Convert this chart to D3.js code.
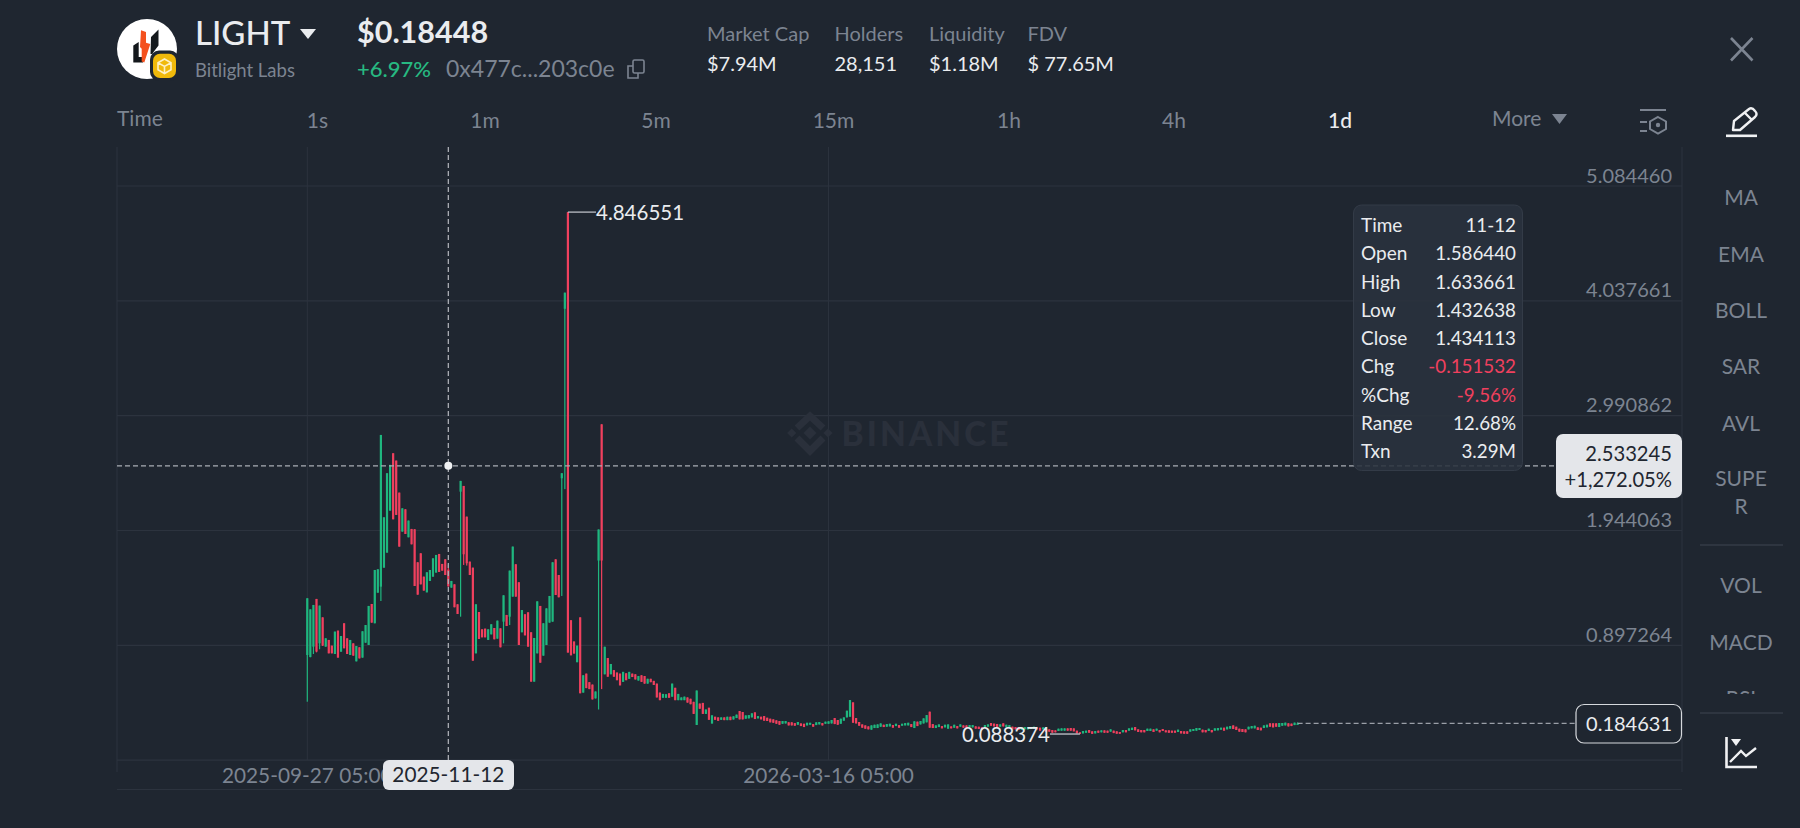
<!DOCTYPE html>
<html><head><meta charset="utf-8">
<script src="https://cdn.jsdelivr.net/npm/d3@7/dist/d3.min.js"></script>
<style>
html,body{margin:0;padding:0;background:#1f2630;overflow:hidden}
svg{display:block}
text{font-family:Lato,"Open Sans",sans-serif}
</style></head><body>
<svg id="c" width="1800" height="828"></svg>
<script>
const opens=[.809,.790,.885,1.320,.915,1.152,.885,.946,.894,.818,
1.031,.839,1.098,.961,.809,.915,.751,.879,.785,.921,
.900,1.274,1.098,1.377,1.432,1.605,1.742,2.125,2.648,2.581,
2.289,1.934,2.137,1.882,1.958,1.955,1.654,1.736,1.523,1.380,
1.484,1.523,1.560,1.730,1.639,1.681,1.586440,1.423,1.453,1.271,
2.298,2.350,2.070,1.660,1.605,.824,1.201,1.043,1.049,.946,
.997,1.055,.958,1.052,1.113,1.174,1.158,1.341,1.636,1.472,
1.016,1.180,1.198,1.016,.566,.824,1.256,.803,.900,1.104,
1.113,1.681,1.538,2.420,3.965,4.846,1.126,.932,.743,1.152,
.466,.639,.561,.539,.413,1.670,2.912,.633,.781,.633,
.671,.649,.639,.564,.642,.592,.639,.633,.576,.624,
.617,.548,.592,.573,.548,.466,.419,.419,.460,.429,
.510,.397,.397,.397,.422,.410,.382,.171,.366,.372,
.272,.328,.184,.246,.240,.218,.240,.215,.246,.221,
.234,.298,.289,.228,.231,.240,.286,.231,.246,.252,
.237,.228,.222,.213,.207,.182,.185,.195,.195,.188,
.173,.185,.182,.167,.173,.179,.170,.176,.188,.182,
.182,.185,.234,.216,.182,.210,.240,.246,.377,.234,
.198,.176,.167,.158,.128,.143,.143,.155,.173,.155,
.158,.170,.161,.170,.164,.167,.167,.179,.143,.201,
.176,.185,.195,.292,.179,.143,.152,.161,.149,.137,
.158,.146,.161,.155,.167,.167,.149,.149,.158,.155,
.149,.149,.155,.189,.183,.180,.155,.186,.152,.146,
.155,.152,.149,.128,.131,.131,.134,.137,.149,.146,
.131,.134,.131,.125,.122,.116,.119,.119,.140,.143,
.140,.119,.104,.094,.100,.125,.113,.094,.119,.104,
.122,.119,.110,.119,.113,.107,.104,.125,.119,.125,
.152,.131,.125,.125,.116,.116,.131,.119,.125,.134,
.122,.122,.119,.119,.107,.116,.113,.113,.110,.116,
.119,.125,.128,.125,.116,.125,.119,.122,.128,.146,
.131,.137,.167,.155,.137,.134,.131,.131,.140,.140,
.149,.146,.143,.149,.186,.186,.186,.152,.164,.167,
.186,.183,.170,.180];
const highs=[1.326,1.225,1.265,1.320,1.259,1.152,.961,.946,.894,1.022,
1.031,.982,1.098,.961,.946,.915,.891,.879,1.025,1.082,
1.256,1.274,1.584,1.590,2.815,2.064,2.466,2.542,2.648,2.581,
2.289,2.146,2.137,2.034,1.958,1.955,1.654,1.736,1.523,1.563,
1.584,1.690,1.721,1.730,1.639,1.681,1.633661,1.484,1.453,1.271,
2.396,2.350,2.070,1.660,1.605,1.271,1.201,1.043,1.049,1.043,
1.089,1.055,1.122,1.052,1.353,1.174,1.578,1.797,1.636,1.472,
1.219,1.180,1.198,1.016,.964,1.298,1.256,1.098,1.234,1.347,
1.654,1.681,1.538,2.466,4.112,4.846551,1.126,.932,.894,1.152,
.624,.639,.561,.539,.476,1.953,2.912,.884,.781,.727,
.671,.649,.639,.655,.642,.655,.639,.633,.617,.624,
.617,.592,.592,.573,.548,.466,.454,.451,.460,.548,
.510,.454,.422,.429,.422,.410,.382,.485,.366,.372,
.312,.328,.259,.246,.240,.240,.240,.246,.246,.250,
.265,.298,.289,.258,.261,.277,.286,.252,.246,.252,
.237,.228,.222,.213,.207,.207,.207,.195,.195,.188,
.198,.185,.182,.191,.191,.179,.195,.198,.188,.201,
.204,.216,.234,.216,.228,.240,.301,.398,.377,.234,
.198,.176,.167,.158,.167,.173,.176,.185,.173,.179,
.182,.170,.182,.170,.182,.188,.191,.179,.204,.201,
.207,.231,.261,.292,.179,.167,.176,.161,.173,.176,
.158,.173,.161,.176,.167,.167,.170,.170,.158,.155,
.149,.170,.176,.189,.183,.180,.176,.186,.173,.170,
.155,.152,.149,.146,.152,.149,.152,.155,.149,.146,
.149,.134,.131,.125,.122,.137,.140,.140,.140,.143,
.140,.119,.104,.116,.119,.125,.113,.116,.119,.122,
.122,.119,.131,.119,.113,.107,.125,.125,.140,.146,
.152,.131,.125,.125,.137,.137,.131,.137,.125,.134,
.122,.122,.119,.119,.128,.116,.113,.113,.131,.134,
.143,.143,.128,.125,.137,.125,.140,.143,.146,.146,
.155,.161,.167,.155,.137,.134,.131,.155,.161,.164,
.149,.146,.167,.173,.186,.186,.186,.189,.189,.192,
.186,.183,.192,.195];
const lows=[.383,.788,.818,.833,.861,.891,.885,.824,.824,.818,
.785,.839,.870,.818,.809,.803,.751,.778,.785,.921,
.900,1.104,1.098,1.377,1.301,1.605,1.742,2.125,2.046,2.086,
1.797,1.934,1.912,1.882,1.818,1.438,1.359,1.453,1.396,1.380,
1.484,1.523,1.560,1.566,1.578,1.538,1.432638,1.423,1.244,1.183,
1.158,1.630,1.624,1.538,.757,.824,.955,.970,.970,.946,
.997,.952,.958,.879,.915,1.073,1.082,1.341,1.341,.900,
1.016,.988,.885,.566,.566,.824,.739,.803,.900,1.104,
1.113,1.356,1.335,1.347,2.321,.831,.806,.822,.743,.460,
.466,.507,.498,.404,.413,.312,.498,.633,.611,.633,
.611,.579,.532,.564,.579,.592,.608,.586,.576,.564,
.548,.548,.561,.536,.422,.397,.419,.419,.419,.429,
.397,.397,.397,.397,.375,.360,.272,.171,.319,.272,
.272,.218,.184,.218,.209,.218,.215,.215,.215,.221,
.234,.222,.222,.228,.231,.240,.225,.231,.222,.210,
.207,.195,.191,.182,.173,.182,.185,.167,.167,.164,
.173,.161,.152,.167,.173,.155,.170,.176,.167,.182,
.182,.185,.179,.173,.182,.210,.240,.246,.191,.185,
.164,.146,.137,.131,.128,.143,.143,.155,.152,.155,
.158,.146,.161,.146,.164,.167,.167,.152,.143,.161,
.176,.185,.195,.146,.143,.143,.152,.140,.149,.137,
.140,.146,.140,.155,.146,.146,.149,.149,.137,.134,
.131,.149,.155,.164,.158,.152,.155,.158,.152,.146,
.131,.131,.125,.128,.131,.131,.134,.137,.131,.119,
.131,.110,.110,.100,.104,.116,.119,.119,.119,.119,
.113,.094,.088374,.094,.100,.100,.090,.094,.100,.104,
.100,.100,.110,.097,.091,.091,.104,.104,.119,.125,
.122,.107,.104,.104,.116,.116,.107,.119,.104,.116,
.104,.100,.100,.100,.107,.094,.091,.091,.110,.116,
.119,.125,.104,.104,.116,.104,.119,.122,.128,.119,
.131,.137,.134,.125,.110,.107,.104,.131,.140,.140,
.125,.122,.143,.149,.155,.149,.155,.152,.164,.167,
.158,.161,.170,.180];
const closes=[1.326,1.225,1.265,.840,1.259,.895,.961,.824,.824,1.022,
.785,.982,.870,.818,.946,.803,.891,.778,1.025,1.082,
1.256,1.104,1.584,1.590,2.815,2.064,2.466,2.542,2.046,2.086,
1.797,2.146,1.912,2.034,1.818,1.438,1.359,1.453,1.396,1.563,
1.584,1.690,1.721,1.566,1.578,1.538,1.434113,1.484,1.244,1.183,
2.396,1.727,1.645,1.538,.757,1.271,.955,.970,.970,1.043,
1.089,.952,1.122,.879,1.353,1.073,1.578,1.797,1.341,.900,
1.219,.988,.885,.566,.964,1.298,.739,1.098,1.234,1.347,
1.654,1.356,1.335,2.466,4.112,.831,.806,.822,.894,.460,
.624,.507,.498,.404,.476,1.953,1.670,.884,.611,.727,
.611,.579,.532,.655,.579,.655,.608,.586,.617,.564,
.548,.592,.561,.536,.422,.397,.454,.451,.419,.548,
.397,.454,.422,.429,.375,.360,.272,.485,.319,.272,
.312,.218,.259,.218,.209,.240,.215,.246,.215,.250,
.265,.222,.222,.258,.261,.277,.225,.252,.222,.210,
.207,.195,.191,.182,.173,.207,.207,.167,.167,.164,
.198,.161,.152,.191,.191,.155,.195,.198,.167,.201,
.204,.216,.179,.173,.228,.240,.301,.398,.191,.185,
.164,.146,.137,.131,.167,.173,.176,.185,.152,.179,
.182,.146,.182,.146,.182,.188,.191,.152,.204,.161,
.207,.231,.261,.146,.143,.167,.176,.140,.173,.176,
.140,.173,.140,.176,.146,.146,.170,.170,.137,.134,
.131,.170,.176,.164,.158,.152,.176,.158,.173,.170,
.131,.131,.125,.146,.152,.149,.152,.155,.131,.119,
.149,.110,.110,.100,.104,.137,.140,.140,.119,.119,
.113,.094,.088374,.116,.119,.100,.090,.116,.100,.122,
.100,.100,.131,.097,.091,.091,.125,.104,.140,.146,
.122,.107,.104,.104,.137,.137,.107,.137,.104,.116,
.104,.100,.100,.100,.128,.094,.091,.091,.131,.134,
.143,.143,.104,.104,.137,.104,.140,.143,.146,.119,
.155,.161,.134,.125,.110,.107,.104,.155,.161,.164,
.125,.122,.167,.173,.155,.149,.155,.189,.189,.192,
.158,.161,.192,.184631];

const yTicks=[5.084460,4.037661,2.990862,1.944063,0.897264];
const yBaseline=-0.149535;
const xTicks=[{i:0,label:"2025-09-27 05:00"},{i:170,label:"2026-03-16 05:00"}];
const intervals=["1s","1m","5m","15m","1h","4h","1d","More"];
const stats=["Market Cap","Holders","Liquidity","FDV"];
const statValues=["$7.94M","28,151","$1.18M","$ 77.65M"];
const tipLabels=["Time","Open","High","Low","Close","Chg","%Chg","Range","Txn"];
const tipValues=["11-12","1.586440","1.633661","1.432638","1.434113","-0.151532","-9.56%","12.68%","3.29M"];
const indicators=["MA","EMA","BOLL","SAR","AVL","SUPE","R","VOL","MACD","RSI"];
const crossIndex=46, crossPrice=2.533245, lastPrice=0.184631, maxPrice=4.846551, minPrice=0.088374;
const maxIndex=85, minIndex=252;

const GREEN="#1fb77f",RED="#f0405e",GRID="#2c333e",MUTED="#7c8491",WHITE="#eaecef",PILL="#e4e6ea",BG="#1f2630";
const svg=d3.select("#c");
const x=d3.scaleLinear().domain([0,323]).range([307.3,307.3+323*3.066]);
const y=d3.scaleLinear().domain([0.897264,5.08446]).range([645.3,186]);
const L=117,R=1682,TOP=147,GB=y(yBaseline),AXB=789.5;
const candles=opens.map((o,i)=>({i,o,h:highs[i],l:lows[i],c:closes[i]}));
function T(sel,s,px,py,size,fill,anchor,weight){return sel.append("text").text(s).attr("x",px).attr("y",py).attr("font-size",size).attr("fill",fill).attr("text-anchor",anchor||"start").attr("font-weight",weight||400);}

// ---- header
const h=svg.append("g");
h.append("circle").attr("cx",147).attr("cy",49).attr("r",30).attr("fill","#fff");
h.append("path").attr("d","M133.3 45.5 L138.7 42 L138.7 57 L143 57 L143 62.5 L133.3 62.5 Z M151 37 L158.5 29.5 L158.5 45.5 L152 54 L150.5 54 Z").attr("fill","#14181c");
h.append("path").attr("d","M141 30.3 L146 32 L146 42.7 L150.3 44 L144.3 62.5 L141.7 61.5 L141.7 48.7 L140 47 Z").attr("fill","#f4511e");
h.append("rect").attr("x",150).attr("y",50.5).attr("width",29).attr("height",30.5).attr("rx",9).attr("fill",BG);
h.append("rect").attr("x",153).attr("y",53.7).attr("width",23).attr("height",24.3).attr("rx",7).attr("fill","#f0b90b");
h.append("path").attr("d","M164.5 59 L171 62.7 L171 69.8 L164.5 73.5 L158 69.8 L158 62.7 Z M158 62.7 L164.5 66.4 L171 62.7 M164.5 66.4 L164.5 73.5").attr("fill","none").attr("stroke","#fdf0c4").attr("stroke-width",1.6);
T(h,"LIGHT",195,45,33,WHITE,"start",500);
h.append("path").attr("d","M300 29 L316 29 L308 39 Z").attr("fill",WHITE);
T(h,"$0.18448",357,43,30.5,WHITE,"start",700);
T(h,"Bitlight Labs",195,77,18.5,MUTED);
T(h,"+6.97%",357,77,22,"#27b981","start",500);
T(h,"0x477c...203c0e",446,77,23,MUTED);
h.append("rect").attr("x",633).attr("y",60).attr("width",11).attr("height",13).attr("rx",1.5).attr("fill","none").attr("stroke",MUTED).attr("stroke-width",1.6);
h.append("path").attr("d","M633 66 L628 66 L628 78 L638 78 L638 73").attr("fill","none").attr("stroke",MUTED).attr("stroke-width",1.6);
const statX=[707,834.5,929,1027.5];
stats.forEach((s,i)=>{T(h,s,statX[i],41,20,MUTED);T(h,statValues[i],statX[i],71,20,WHITE);});
T(h,"Time",117,126,21,MUTED);
const intX=[317.5,485,656,833.5,1009,1174,1340];
intervals.forEach((s,i)=>{ if(i<7) T(h,s,intX[i],128,21,s==="1d"?WHITE:MUTED,"middle",s==="1d"?500:400); });
T(h,"More",1492,126,21,MUTED);
h.append("path").attr("d","M1552 114 L1567 114 L1559.5 124 Z").attr("fill",MUTED);
// filter icon
h.append("path").attr("d","M1640 110 L1666 110 M1640 122 L1647 122 M1640 131 L1647 131").attr("stroke",MUTED).attr("stroke-width",2.2).attr("fill","none");
h.append("path").attr("d","M1658 117 L1666 121.5 L1666 129 L1658 133.5 L1650 129 L1650 121.5 Z").attr("stroke",MUTED).attr("stroke-width",2).attr("fill","none");
h.append("circle").attr("cx",1658).attr("cy",125).attr("r",2.2).attr("fill",MUTED);
// close
h.append("path").attr("d","M1731 38 L1752.5 60.5 M1752.5 38 L1731 60.5").attr("stroke",MUTED).attr("stroke-width",2.6);
// pencil
h.append("path").attr("d","M1733 130 L1734 121 L1749 109 Q1752 107 1755 111 Q1758 114 1755 117 L1740 130 Z M1745 113 L1752 120").attr("stroke","#f0f1f3").attr("stroke-width",2.4).attr("fill","none").attr("stroke-linejoin","round");
h.append("rect").attr("x",1726).attr("y",134.5).attr("width",31).attr("height",2.6).attr("fill","#f0f1f3");

// ---- frame and grid
const g=svg.append("g");
g.append("line").attr("x1",L).attr("x2",L).attr("y1",TOP).attr("y2",772).attr("stroke",GRID);
g.append("line").attr("x1",R).attr("x2",R).attr("y1",TOP).attr("y2",772).attr("stroke",GRID);
g.selectAll(".vg").data(xTicks).join("line").attr("x1",d=>x(d.i)).attr("x2",d=>x(d.i)).attr("y1",TOP).attr("y2",GB).attr("stroke",GRID);
g.selectAll(".hg").data(yTicks.concat([yBaseline])).join("line").attr("x1",L).attr("x2",R).attr("y1",d=>y(d)).attr("y2",d=>y(d)).attr("stroke",GRID).attr("stroke-width",1.2);
g.append("line").attr("x1",L).attr("x2",R).attr("y1",AXB).attr("y2",AXB).attr("stroke",GRID).attr("stroke-width",1.2);
g.selectAll(".yl").data(yTicks).join("text").text(d=>d.toFixed(6)).attr("x",1672).attr("y",d=>y(d)-3.5).attr("text-anchor","end").attr("font-size",20).attr("fill",MUTED);
g.selectAll(".xl").data(xTicks).join("text").text(d=>d.label).attr("x",d=>x(d.i)).attr("y",783).attr("text-anchor","middle").attr("font-size",20.8).attr("fill",MUTED);

// watermark
const w=svg.append("g").attr("fill","#2a303b");
w.append("text").text("BINANCE").attr("x",841.5).attr("y",445.7).attr("font-size",33.5).attr("font-weight",900).attr("letter-spacing",3);
[[810,433,6.5],[791.7,433,4.6],[828,433,4.6]].forEach(p=>w.append("path").attr("d",`M${p[0]} ${p[1]-p[2]} L${p[0]+p[2]} ${p[1]} L${p[0]} ${p[1]+p[2]} L${p[0]-p[2]} ${p[1]} Z`));
w.append("path").attr("d","M797 428 L810 416 L823 428 M797 438 L810 451 L823 438").attr("fill","none").attr("stroke","#2a303b").attr("stroke-width",7);

// ---- candles
const col=d=>d.c>=d.o?GREEN:RED;
const cg=svg.append("g");
cg.selectAll(".w").data(candles).join("rect").attr("x",d=>x(d.i)-0.6).attr("width",1.2).attr("y",d=>y(d.h)).attr("height",d=>Math.max(1,y(d.l)-y(d.h))).attr("fill",col);
cg.selectAll(".b").data(candles).join("rect").attr("x",d=>x(d.i)-1.1).attr("width",2.2).attr("y",d=>y(Math.max(d.o,d.c))).attr("height",d=>Math.max(1.5,Math.abs(y(d.o)-y(d.c)))).attr("fill",col);

// annotations
const a=svg.append("g");
a.append("line").attr("x1",x(maxIndex)).attr("x2",596).attr("y1",y(maxPrice)).attr("y2",y(maxPrice)).attr("stroke","#c8ccd2").attr("stroke-width",1.2);
T(a,"4.846551",596,220,20.5,WHITE);
a.append("line").attr("x1",1050).attr("x2",x(minIndex)).attr("y1",y(minPrice)).attr("y2",y(minPrice)).attr("stroke","#b8bcc3").attr("stroke-width",1.4);
T(a,"0.088374",1050,741.5,20.5,WHITE,"end");

// last price
a.append("line").attr("x1",x(323)).attr("x2",1576).attr("y1",y(lastPrice)).attr("y2",y(lastPrice)).attr("stroke","#9a9fa7").attr("stroke-width",1.2).attr("stroke-dasharray","5 3");
a.append("rect").attr("x",1576).attr("y",704.5).attr("width",105.5).attr("height",38.5).attr("rx",8).attr("fill",BG).attr("stroke","#d5d8dc").attr("stroke-width",1.2);
T(a,"0.184631",1672,731,20,WHITE,"end");

// crosshair
a.append("line").attr("x1",L).attr("x2",1556).attr("y1",y(crossPrice)).attr("y2",y(crossPrice)).attr("stroke","#a9adb4").attr("stroke-dasharray","5 3").attr("stroke-width",1.3);
a.append("line").attr("x1",x(crossIndex)).attr("x2",x(crossIndex)).attr("y1",TOP).attr("y2",GB).attr("stroke","#a9adb4").attr("stroke-dasharray","5 3").attr("stroke-width",1.3);
a.append("circle").attr("cx",x(crossIndex)).attr("cy",y(crossPrice)).attr("r",4).attr("fill","#f0f1f3");
a.append("rect").attr("x",383).attr("y",760).attr("width",131).attr("height",30).attr("rx",6).attr("fill",PILL);
T(a,"2025-11-12",x(crossIndex),782,20.8,"#1f2630","middle");
a.append("rect").attr("x",1556).attr("y",434).attr("width",126).attr("height",64).attr("rx",7).attr("fill",PILL);
T(a,"2.533245",1672,461,20.2,"#1f2630","end");
T(a,"+1,272.05%",1672,487,20.2,"#1f2630","end");

// tooltip
const tip=svg.append("g");
tip.append("rect").attr("x",1353.5).attr("y",205).attr("width",169).attr("height",265.5).attr("rx",8).attr("fill","#2a323e").attr("fill-opacity",.88).attr("stroke","#333b47");
tipLabels.forEach((s,i)=>{
  const py=232+i*28.25;
  T(tip,s,1361,py,19,WHITE);
  T(tip,tipValues[i],1516,py,18.8,(i===5||i===6)?"#f0405e":WHITE,"end");
});

// ---- right column
const r=svg.append("g");
const indY=[205,262,318,374,431,486,514,593,650,706];
svg.append("defs").append("clipPath").attr("id","rc").append("rect").attr("x",1690).attr("y",150).attr("width",110).attr("height",544);
const rg=r.append("g").attr("clip-path","url(#rc)");
indicators.forEach((s,i)=>T(rg,s,1741,indY[i],21,MUTED,"middle"));
[545,713].forEach(py=>r.append("line").attr("x1",1700).attr("x2",1783).attr("y1",py).attr("y2",py).attr("stroke","#343b46").attr("stroke-width",1.6));
r.append("path").attr("d","M1726.5 737 L1726.5 767 L1757 767").attr("stroke","#f0f1f3").attr("stroke-width",2.6).attr("fill","none");
r.append("path").attr("d","M1730 762 L1741 751 L1746 756 L1756 748").attr("stroke","#f0f1f3").attr("stroke-width",2.4).attr("fill","none");
r.append("path").attr("d","M1731 739 L1741 739 L1736 746 Z").attr("fill","#f0f1f3");
</script>
</body></html>
